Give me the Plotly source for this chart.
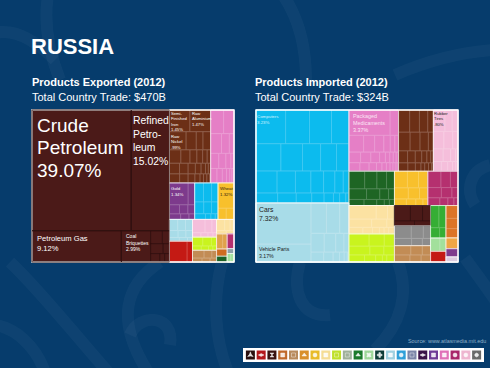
import plotly.graph_objects as go

W, H = 490, 368
BG = "#063c6c"

# ---------- Exports: cell values in percent of trade ----------
EX_CRUDE = [[39.07]]
EX_REFINED = [[15.02]]
EX_GAS = [[9.12]]
EX_COAL = [[2.99, [[0.5, 0.3], [0.4, 0.2], [0.25, 0.13, 0.13]]]]
EX_BROWN = [[1.45, 1.47], [0.99, 0.6, 0.4, 0.45], [0.5, 0.4, 0.3, 0.25, 0.2, 0.15],
            [0.35, 0.3, 0.25, 0.2, 0.15, 0.1, 0.08], [0.3, 0.25, 0.2, 0.15, 0.1, 0.1, 0.08, 0.03]]
EX_PINK = [[1.0, 0.8], [0.7, 0.5, 0.3], [0.4, 0.35, 0.25, 0.15], [0.3, 0.25, 0.2, 0.15, 0.1, 0.1]]
EX_PURPLE = [[1.34, 0.46], [0.3, 0.25, 0.2], [0.2, 0.15, 0.1]]
EX_SKY = [[0.55, 0.5, 0.4], [0.35, 0.3, 0.25], [0.2, 0.1, 0.08, 0.05]]
EX_WHEAT = [[1.32], [0.3, 0.28]]
EX_LBLUE = [[0.3, 0.28, 0.25], [0.2, 0.18, 0.15], [0.12, 0.1, 0.06]]
EX_RED = [[1.2, 0.36]]
EX_PPINK = [[0.55, 0.3, 0.2], [0.12, 0.1, 0.07, 0.05]]
EX_LIME = [[0.3, 0.25, 0.15], [0.12, 0.1, 0.06, 0.05]]
EX_TAN = [[0.3, 0.2, 0.12], [0.12, 0.1, 0.08]]
EX_PYELLOW = [[0.3, 0.2, 0.14], [0.1, 0.08]]
EX_ORANGE = [[0.3, 0.22]]
EX_DORANGE = [[0.25]]
EX_DGREEN = [[0.2]]
EX_MAGENTA = [[0.33]]
EX_SLATE = [[0.11]]
EX_LGREEN = [[0.1, 0.09]]

# ---------- Imports: cell values in percent of trade ----------
IM_BLUE = [[3.23, 2.6, 2.4, 1.9], [2.2, 1.9, 1.6, 1.4, 1.1], [1.5, 1.3, 1.1, 0.9, 0.8, 0.6, 0.4],
           [0.7, 0.6, 0.5, 0.4, 0.3, 0.2, 0.2, 0.1]]
IM_LBLUE = [[[[7.32], [3.17]], [[1.5, 1.3, 0.9], [0.8, 0.7, 0.5, 0.3], [0.4, 0.3, 0.2, 0.15, 0.1, 0.05]]]]
IM_PINK = [[3.37, 0.69], [0.8, 0.6, 0.5, 0.35, 0.25, 0.2], [0.4, 0.35, 0.3, 0.2, 0.15, 0.12, 0.1, 0.08],
           [0.3, 0.25, 0.2, 0.15, 0.12, 0.1, 0.08, 0.06, 0.05, 0.04]]
IM_BROWN = [[0.8, 0.7, 0.6, 0.4], [0.7, 0.6, 0.5, 0.3], [0.35, 0.3, 0.25, 0.2, 0.15, 0.1],
            [0.25, 0.2, 0.15, 0.1, 0.1, 0.08, 0.05]]
IM_PPINK = [[0.8, 0.5, 0.4], [0.6, 0.5, 0.3], [0.4, 0.3, 0.2, 0.1], [0.25, 0.2, 0.15, 0.1, 0.07]]
IM_GREEN = [[0.9, 0.7, 0.55, 0.45], [0.6, 0.45, 0.3, 0.2], [0.3, 0.25, 0.15, 0.1, 0.1]]
IM_YELLOW = [[0.7, 0.6, 0.5], [0.5, 0.4, 0.3], [0.25, 0.2, 0.15, 0.1]]
IM_MAGENTA = [[0.7, 0.5, 0.4], [0.45, 0.35, 0.2], [0.3, 0.2, 0.15, 0.1]]
IM_PYELLOW = [[1.2, 0.5, 0.3], [0.6, 0.4, 0.2], [0.3, 0.2, 0.15, 0.1, 0.1, 0.12]]
IM_LIME = [[0.8, 0.6, 0.4], [0.6, 0.4, 0.3], [0.35, 0.25, 0.15, 0.1, 0.17]]
IM_MAROON = [[0.8, 0.6, 0.4], [0.3, 0.24]]
IM_GREY = [[0.7, 0.5, 0.3], [0.4, 0.25, 0.19]]
IM_TAN = [[0.5, 0.35, 0.25], [0.35, 0.25, 0.21]]
IM_GREEN2 = [[0.6, 0.5], [0.3, 0.21]]
IM_LGREEN = [[0.4, 0.26]]
IM_RED = [[0.53]]
IM_ORANGE = [[0.5], [0.4], [0.36]]
IM_LORANGE = [[0.42]]
IM_PURPLE = [[0.32]]
IM_PALE = [[0.2]]

# Group arrangement: nesting alternates left-right and top-bottom
EXPORT_TREE = [
    [[("crude", EX_CRUDE), ("refined", EX_REFINED)], [("gas", EX_GAS), ("coal", EX_COAL)]],
    [[("brown", EX_BROWN), ("pink", EX_PINK)],
     [("purple", EX_PURPLE), ("sky", EX_SKY), ("wheat", EX_WHEAT)],
     [[("lblue", EX_LBLUE), ("red", EX_RED)],
      [("ppink", EX_PPINK), ("lime", EX_LIME), ("tan", EX_TAN)],
      [("pyellow", EX_PYELLOW),
       [[("orange", EX_ORANGE), ("dorange", EX_DORANGE), ("dgreen", EX_DGREEN)],
        [("magenta", EX_MAGENTA), ("slate", EX_SLATE), ("lgreen", EX_LGREEN)]]]]],
]
IMPORT_TREE = [
    [("blue", IM_BLUE), ("lblue", IM_LBLUE)],
    [[("pink", IM_PINK), ("brown", IM_BROWN), ("ppink", IM_PPINK)],
     [("green", IM_GREEN), ("yellow", IM_YELLOW), ("magenta", IM_MAGENTA)],
     [[("pyellow", IM_PYELLOW), ("lime", IM_LIME)],
      [("maroon", IM_MAROON), ("grey", IM_GREY), ("tan", IM_TAN)],
      [[[("green2", IM_GREEN2), ("lgreen", IM_LGREEN), ("red", IM_RED)],
        [("orange", IM_ORANGE), ("lorange", IM_LORANGE), ("purple", IM_PURPLE), ("pale", IM_PALE)]]]]],
]

COLORS = {
    "crude": "#4b1a18", "refined": "#4b1a18", "gas": "#4b1a18", "coal": "#4b1a18", "maroon": "#4b1a18",
    "brown": "#6c2f16", "pink": "#e57fc6", "purple": "#7d3a8c", "sky": "#0cbbee", "blue": "#0cbbee",
    "wheat": "#f8c02c", "yellow": "#f8c02c", "lblue": "#a8dce8", "red": "#c41a14", "ppink": "#f5bedb",
    "lime": "#c9f41e", "tan": "#c28c55", "pyellow": "#fce2a2", "orange": "#e0a24b", "dorange": "#cf6c20",
    "dgreen": "#1c6226", "magenta": "#b5306f", "slate": "#8fa0a8", "lgreen": "#a2e09c", "green": "#1e6524",
    "grey": "#8c8c8c", "green2": "#35ae34", "lorange": "#efa645", "pale": "#dccbe0",
}
IMPORT_COLORS = dict(COLORS, orange="#dc7427", purple="#7e3a8d")
DARK_LINE_GROUPS = ["crude", "refined", "gas", "coal", "maroon"]

STRIP_COLORS = ["#2a0f0e", "#b3181c", "#3a1412", "#c0692a", "#b88a5c", "#d98f2b", "#e8bb2a", "#f5dd95",
                "#bfe02a", "#9fb09a", "#1c7a2c", "#9fd79a", "#0d3b36", "#9fd0e0", "#2f9fd8", "#7c86a8",
                "#3a1248", "#6e3a96", "#e070b8", "#a8266a", "#eeb6d0", "#6a6a6a"]
STRIP_SLOTS = list(range(22))
STRIP_GLYPHS = ["star-triangle-up", "diamond-wide", "hourglass", "square", "square-open", "triangle-up",
                "circle", "square", "square-open", "square-open", "triangle-up", "x", "cross", "square",
                "circle", "square-open", "diamond-wide", "square", "square", "circle", "circle", "hexagon"]


def blend(hex_color, other, t):
    a = [int(hex_color[i:i + 2], 16) for i in (1, 3, 5)]
    b = [int(other[i:i + 2], 16) for i in (1, 3, 5)]
    return "rgb(%d,%d,%d)" % tuple(round(p + (q - p) * t) for p, q in zip(a, b))


def total(node):
    if isinstance(node, tuple):
        return total(node[1])
    if isinstance(node, list):
        return sum(total(n) for n in node)
    return node


def build(tree, palette):
    """Flatten the nested groups into the columns a treemap needs."""
    ids, parents, values, fills, lines, widths = ["root"], [""], [0], [BG], ["#ffffff"], [0]
    g_ids, g_parents, g_values, g_lines, g_widths = ["root"], [""], [0], ["#ffffff"], [1.4]

    def cells(node, pid, fill, line):
        for i, child in enumerate(node):
            cid = f"{pid}.{i}"
            ids.append(cid); parents.append(pid)
            fills.append(fill); lines.append(line); widths.append(0.6)
            if isinstance(child, list):
                values.append(0)
                cells(child, cid, fill, line)
            else:
                values.append(child)

    def walk(node, pid, depth):
        for i, child in enumerate(node):
            cid = f"{pid}-{i}"
            ids.append(cid); parents.append(pid)
            g_ids.append(cid); g_parents.append(pid)
            values.append(0)
            if isinstance(child, tuple):
                name, rows = child
                fill = palette[name]
                line = blend(fill, "#000000", 0.35) if name in DARK_LINE_GROUPS else blend(fill, "#ffffff", 0.3)
                fills.append(fill); lines.append(line); widths.append(0)
                g_values.append(total(rows))
                g_lines.append("rgba(255,255,255,0.55)" if name not in DARK_LINE_GROUPS else line)
                g_widths.append(0.8)
                # depth of this group is depth + 1; rows must stack top to bottom
                cells(rows if (depth + 1) % 2 == 1 else [rows], cid, fill, line)
            else:
                fills.append(BG); lines.append("#ffffff"); widths.append(0)
                g_values.append(0); g_lines.append("rgba(0,0,0,0)"); g_widths.append(0)
                walk(child, cid, depth + 1)

    walk(tree, "root", 0)
    return (ids, parents, values, fills, lines, widths), (g_ids, g_parents, g_values, g_lines, g_widths)


def domain(x0, x1, y0, y1):
    return dict(x=[x0 / W, x1 / W], y=[1 - y1 / H, 1 - y0 / H])


def add_treemap(fig, tree, palette, dom):
    (ids, parents, values, fills, lines, widths), (gi, gp, gv, gl, gw) = build(tree, palette)
    common = dict(branchvalues="remainder", sort=False, domain=dom, textinfo="none", hoverinfo="skip",
                  pathbar=dict(visible=False), tiling=dict(packing="slice-dice", pad=0))
    fig.add_trace(go.Treemap(
        ids=ids, labels=ids, parents=parents, values=values, **common,
        marker=dict(colors=fills, line=dict(color=lines, width=widths), pad=dict(t=0, l=0, r=0, b=0), depthfade=False),
    ))
    fig.add_trace(go.Treemap(
        ids=gi, labels=gi, parents=gp, values=gv, **common,
        marker=dict(colors=["rgba(0,0,0,0)"] * len(gi), line=dict(color=gl, width=gw),
                    pad=dict(t=0, l=0, r=0, b=0), depthfade=False),
    ))


def label(text, x, y, size, color="#ffffff", bold=False, anchor="left"):
    body = f"<b>{text}</b>" if bold else text
    return dict(text=body, x=x / W, y=1 - y / H, xref="paper", yref="paper", xanchor=anchor, yanchor="top",
                align=anchor, showarrow=False, borderpad=0, borderwidth=0,
                font=dict(family="Liberation Sans, Arial, sans-serif", size=size, color=color))


def paper_path(points):
    """Background swirl outline given in slide pixels, as a paper-space path."""
    out = []
    for tok in points:
        if isinstance(tok, str):
            out.append(tok)
        else:
            out.append(f"{tok[0] / W:.4f},{1 - tok[1] / H:.4f}")
    return " ".join(out)


fig = go.Figure()
add_treemap(fig, EXPORT_TREE, COLORS, domain(32, 234, 110, 262))
add_treemap(fig, IMPORT_TREE, IMPORT_COLORS, domain(256, 458, 110, 262))

fig.add_trace(go.Scatter(x=STRIP_SLOTS, y=[0] * 22, mode="markers", hoverinfo="skip", showlegend=False,
                         marker=dict(symbol="square", size=9, color=STRIP_COLORS)))
fig.add_trace(go.Scatter(x=STRIP_SLOTS, y=[0] * 22, mode="markers", hoverinfo="skip", showlegend=False,
                         marker=dict(symbol=STRIP_GLYPHS, size=4, color="rgba(255,255,255,0.85)",
                                     line=dict(color="rgba(255,255,255,0.85)", width=0.5))))

annotations = [
    label("RUSSIA", 31, 34, 22, bold=True),
    label("Products Exported (2012)", 32, 76, 11, bold=True),
    label("Total Country Trade: $470B", 32, 91, 11),
    label("Products Imported (2012)", 254.5, 76, 11, bold=True),
    label("Total Country Trade: $324B", 254.5, 91, 11),
    label("Crude", 37, 114.5, 19),
    label("Petroleum", 37, 137, 19),
    label("39.07%", 37, 160, 19),
    label("Refined<br>Petro-<br>leum<br>15.02%", 132.5, 115.5, 10.4),
    label("Petroleum Gas<br>9.12%", 36.5, 233.5, 7.6),
    label("Coal<br>Briquettes<br>2.99%", 125.5, 233, 5),
    label("Semi-<br>Finished<br>Iron<br>1.45%", 171, 111, 4.2),
    label("Raw<br>Aluminium<br>1.47%", 192, 111, 4.2),
    label("Raw<br>Nickel<br>.99%", 171, 134, 4.2),
    label("Gold<br>1.34%", 171, 186, 4.4),
    label("Wheat<br>1.32%", 219.5, 186, 4.4, color="#2a1a10"),
    label("Computers<br>3.23%", 256.5, 114, 4.4, color="#d8f4ff"),
    label("Packaged<br>Medicaments<br>3.37%", 352.5, 113, 5.4, color="#fbe4f4"),
    label("Rubber<br>Tires<br>.80%", 434, 111, 4.2, color="#222222"),
    label("Cars<br>7.32%", 258.5, 206, 6.8, color="#222222"),
    label("Vehicle Parts<br>3.17%", 258.5, 246, 5.2, color="#222222"),
    label("Source: www.atlasmedia.mit.edu", 486, 338, 5.4, color="#8fb0c8", anchor="right"),
]

SWIRLS = [
    ["M", (-5, 33), "C", (15, 28), (35, 40), (55, 60)],
    ["M", (48, -5), "C", (44, 20), (48, 50), (60, 80)],
    ["M", (283, -5), "C", (300, 20), (306, 50), (306, 80)],
    ["M", (395, 75), "C", (425, 62), (460, 52), (495, 50)],
    ["M", (10, 262), "C", (40, 290), (75, 335), (108, 372)],
    ["M", (-5, 325), "C", (15, 328), (35, 345), (45, 372)],
    ["M", (160, 262), "C", (125, 285), (115, 320), (148, 372)],
    ["M", (130, 335), "C", (140, 312), (175, 315), (170, 345)],
    ["M", (222, 262), "C", (212, 300), (215, 340), (228, 372)],
    ["M", (300, 262), "C", (292, 290), (300, 318), (330, 315)],
    ["M", (398, 262), "C", (410, 295), (400, 325), (375, 350)],
    ["M", (465, 258), "C", (475, 272), (485, 285), (495, 300)],
    ["M", (490, 165), "C", (470, 170), (465, 190), (475, 205)],
]
shapes = [dict(type="path", xref="paper", yref="paper", path=paper_path(p), layer="below",
               line=dict(color="rgba(255,255,255,0.035)", width=12)) for p in SWIRLS]
shapes.append(dict(type="rect", xref="paper", yref="paper", x0=243 / W, x1=484 / W, y0=1 - 362 / H, y1=1 - 348 / H,
                   fillcolor="#ffffff", line=dict(width=0), layer="below"))

fig.update_layout(
    width=W, height=H, margin=dict(l=0, r=0, t=0, b=0), paper_bgcolor=BG, plot_bgcolor="rgba(0,0,0,0)",
    showlegend=False, annotations=annotations, shapes=shapes,
    xaxis=dict(visible=False, domain=[245 / W, 482 / W], range=[-0.5, 21.5], fixedrange=True),
    yaxis=dict(visible=False, domain=[1 - 362 / H, 1 - 348 / H], range=[-1, 1], fixedrange=True),
)

fig.write_html("out.html", post_script="document.body.style.margin='0';", config=dict(displayModeBar=False))
